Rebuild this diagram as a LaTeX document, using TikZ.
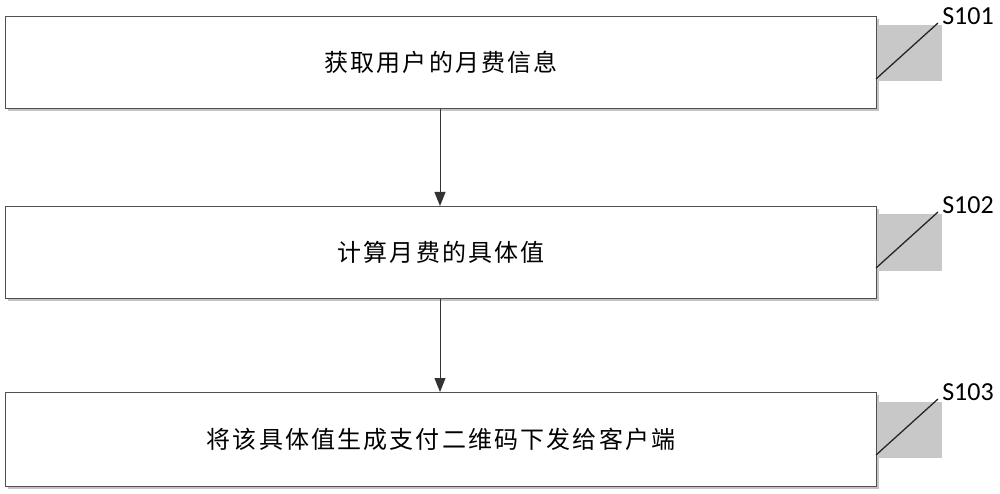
\documentclass[tikz,border=0pt]{standalone}
\usepackage{fontspec}
\newfontfamily\cjk[LetterSpace=9]{Noto Sans CJK SC}
\newfontfamily\lab{Carlito}
\usetikzlibrary{arrows.meta}
\definecolor{boxline}{HTML}{505050}
\definecolor{shad}{HTML}{C4C4C4}
\definecolor{tagfill}{HTML}{C8C8C8}
\begin{document}
\begin{tikzpicture}[x=1pt,y=-1pt,
  stepbox/.style={draw=boxline,line width=1.2pt,fill=white,minimum width=871pt,anchor=north west,inner sep=0pt,font=\cjk\fontsize{24}{28}\selectfont},
  flow/.style={draw=black!80,line width=1pt,-{Triangle[length=14pt,width=11pt]}},
  tag/.style={font=\lab\fontsize{26}{30}\selectfont,inner sep=0pt},
  tagline/.style={draw=black!85,line width=1.3pt}]
\useasboundingbox (0,0) rectangle (1000,494);
% shadows
\fill[shad] (8,19) rectangle (879,111);
\fill[shad] (8,209) rectangle (879,301);
\fill[shad] (8,395) rectangle (879,489);
% tag backgrounds
\fill[tagfill] (876,25) rectangle (942,81);
\fill[tagfill] (876,214) rectangle (942,271);
\fill[tagfill] (876,402) rectangle (942,458);
% boxes
\node[stepbox,minimum height=92pt] (b1) at (5,16) {获取用户的月费信息};
\node[stepbox,minimum height=92pt] (b2) at (5,206) {计算月费的具体值};
\node[stepbox,minimum height=94pt] (b3) at (5,392) {将该具体值生成支付二维码下发给客户端};
% arrows
\draw[flow] (b1.south -| 440,0) -- (b2.north -| 440,0);
\draw[flow] (b2.south -| 440,0) -- (b3.north -| 440,0);
% labels
\node[tag] (t1) at (968,16) {S101};
\node[tag] (t2) at (968,205) {S102};
\node[tag] (t3) at (968,392) {S103};
\coordinate (c1) at (876,79);
\coordinate (c2) at (876,268);
\coordinate (c3) at (876,455);
\draw[tagline] (c1) -- (938,23);
\draw[tagline] (c2) -- (938,212);
\draw[tagline] (c3) -- (938,399);
\end{tikzpicture}
\end{document}
